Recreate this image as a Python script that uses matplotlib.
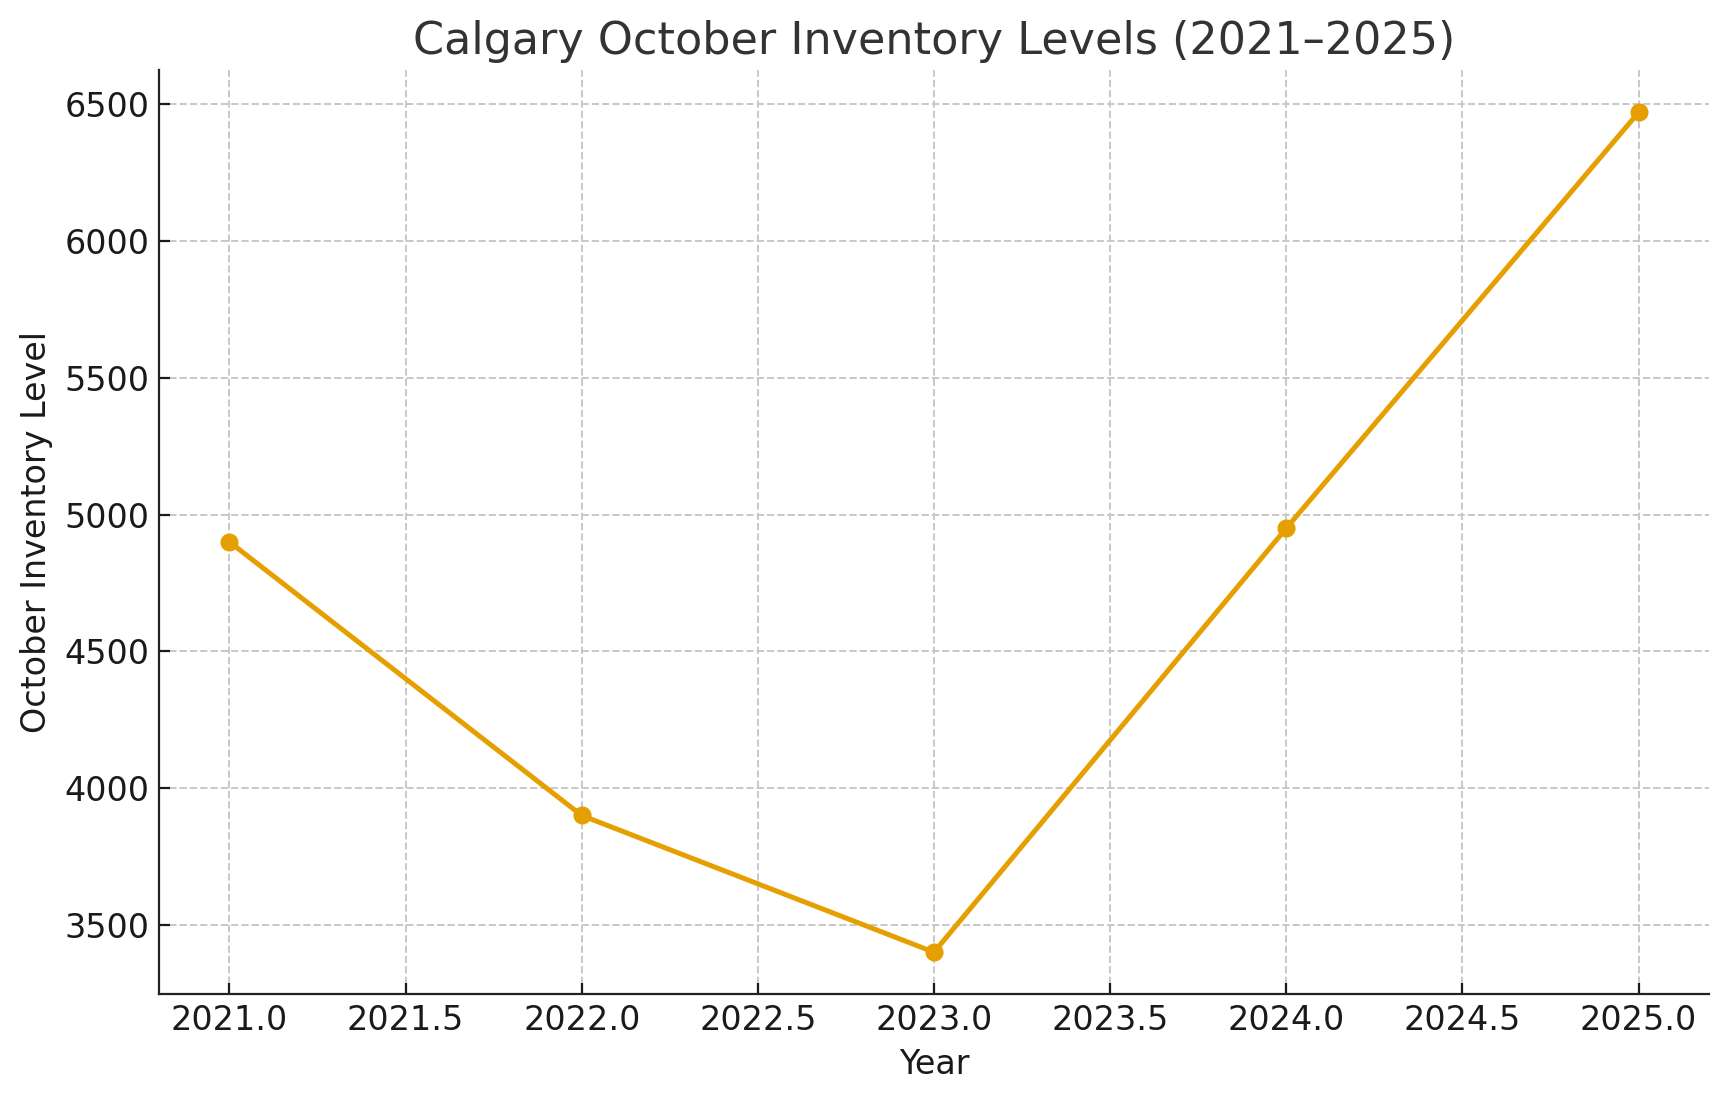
import matplotlib
matplotlib.use('Agg')
import matplotlib.pyplot as plt

# October inventory levels
years = [2021, 2022, 2023, 2024, 2025]
inventory = [4900, 3900, 3400, 4950, 6470]

fig, ax = plt.subplots(figsize=(8.64, 5.505), dpi=200)

ax.plot(years, inventory, marker='o', color='#E69F00', linewidth=1.8, markersize=5.5)

ax.set_title("Calgary October Inventory Levels (2021\u20132025)", fontsize=16, color='#333333')
ax.set_xlabel('Year', fontsize=12, color='#1a1a1a')
ax.set_ylabel('October Inventory Level', fontsize=12, color='#1a1a1a')

ax.grid(True, linestyle='--', color='#c8c8c8', linewidth=0.7)
ax.set_axisbelow(True)
ax.tick_params(direction='in', labelsize=12, colors='#1a1a1a', length=4)
for side in ('top', 'right'):
    ax.spines[side].set_visible(False)
for side in ('left', 'bottom'):
    ax.spines[side].set_color('#222222')

fig.subplots_adjust(left=0.092, right=0.989, top=0.936, bottom=0.097)
fig.savefig('out.png', dpi=200)
plt.close()
